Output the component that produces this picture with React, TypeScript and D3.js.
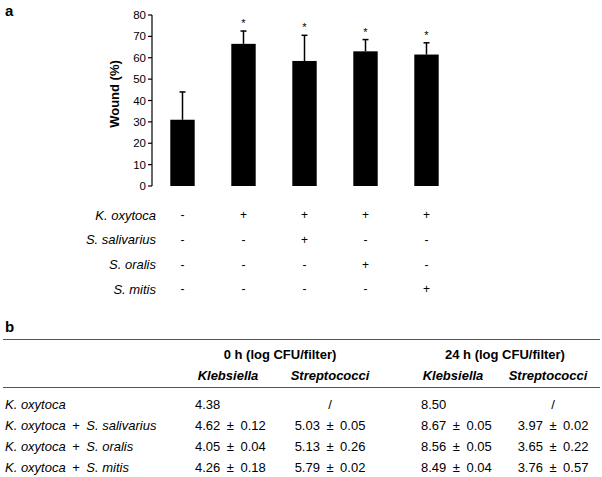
import * as d3 from 'd3'
import React from 'react'

// panel a: wound closure
const groups = ['g1', 'g2', 'g3', 'g4', 'g5']
const wound = [31, 66.5, 58.5, 63, 61.5]
const woundErr = [13, 6, 12, 5.5, 5.5]
const significant = [false, true, true, true, true]
const yTicks = [0, 10, 20, 30, 40, 50, 60, 70, 80]

const strains = ['K. oxytoca', 'S. salivarius', 'S. oralis', 'S. mitis']
const presence = [
  ['-', '+', '+', '+', '+'],
  ['-', '-', '+', '-', '-'],
  ['-', '-', '-', '+', '-'],
  ['-', '-', '-', '-', '+'],
]

// panel b: table
const tableRows = [
  ['K. oxytoca', ''],
  ['K. oxytoca', 'S. salivarius'],
  ['K. oxytoca', 'S. oralis'],
  ['K. oxytoca', 'S. mitis'],
]
const klebs0 = ['4.38', '4.62 ± 0.12', '4.05 ± 0.04', '4.26 ± 0.18']
const strep0 = ['/', '5.03 ± 0.05', '5.13 ± 0.26', '5.79 ± 0.02']
const klebs24 = ['8.50', '8.67 ± 0.05', '8.56 ± 0.05', '8.49 ± 0.04']
const strep24 = ['/', '3.97 ± 0.02', '3.65 ± 0.22', '3.76 ± 0.57']

const font = 'Arial, "Liberation Sans", sans-serif'
const wide = (s: string) => s.replace(' ± ', '\u2002±\u2002')

export default function App() {
  const W = 602, H = 477
  const x = d3.scaleBand().domain(groups).range([152, 457]).paddingInner(0.6).paddingOuter(0.3)
  const y = d3.scaleLinear().domain([0, 80]).range([186, 15])
  const rowY = d3.scalePoint().domain(strains).range([215, 289])
  const tRowY = d3.scalePoint<number>().domain(d3.range(4) as any).range([404, 467])

  return (
    <svg width={W} height={H} style={{ position: 'absolute', left: 0, top: 0, fontFamily: font }}>
      <rect width={W} height={H} fill="#fff" />
      <text x={5} y={16} fontSize={15} fontWeight="bold">a</text>

      {/* y axis */}
      <line x1={152} x2={152} y1={y(80)} y2={y(0)} stroke="#000" strokeWidth={1.2} />
      {yTicks.map(t => (
        <g key={t}>
          <line x1={148} x2={152} y1={y(t)} y2={y(t)} stroke="#000" strokeWidth={1.2} />
          <text x={146} y={y(t)} dy="0.35em" textAnchor="end" fontSize={11.5}>{t}</text>
        </g>
      ))}
      <text transform={`translate(119,94) rotate(-90)`} textAnchor="middle" fontSize={13} fontWeight="bold">Wound (%)</text>

      {/* bars */}
      {groups.map((g, i) => {
        const cx = x(g)! + x.bandwidth() / 2
        const top = y(wound[i] + woundErr[i])
        return (
          <g key={g}>
            <line x1={cx} x2={cx} y1={y(wound[i])} y2={top} stroke="#000" strokeWidth={1.5} />
            <line x1={cx - 3} x2={cx + 3} y1={top} y2={top} stroke="#000" strokeWidth={1.5} />
            <rect x={x(g)} y={y(wound[i])} width={x.bandwidth()} height={y(0) - y(wound[i])} fill="#000" />
            {significant[i] && (
              <text x={cx} y={top - 4} textAnchor="middle" fontSize={11}>*</text>
            )}
          </g>
        )
      })}

      {/* presence grid */}
      {strains.map((s, r) => (
        <g key={s}>
          <text x={156} y={rowY(s)} dy="0.35em" textAnchor="end" fontSize={13} fontStyle="italic">{s}</text>
          {groups.map((g, i) => (
            <text key={g} x={x(g)! + x.bandwidth() / 2} y={rowY(s)} dy="0.35em" textAnchor="middle" fontSize={12}>
              {presence[r][i]}
            </text>
          ))}
        </g>
      ))}

      <text x={5} y={332} fontSize={15} fontWeight="bold">b</text>

      {/* table */}
      <line x1={3} x2={600} y1={339.5} y2={339.5} stroke="#555" strokeWidth={1} />
      <line x1={3} x2={600} y1={387.5} y2={387.5} stroke="#555" strokeWidth={1} />
      <g fontSize={13} fontWeight="bold">
        <text x={280} y={359} textAnchor="middle">0 h (log CFU/filter)</text>
        <text x={505} y={359} textAnchor="middle">24 h (log CFU/filter)</text>
        <text x={228} y={380} textAnchor="middle" fontStyle="italic">Klebsiella</text>
        <text x={330} y={380} textAnchor="middle" fontStyle="italic">Streptococci</text>
        <text x={453} y={380} textAnchor="middle" fontStyle="italic">Klebsiella</text>
        <text x={548} y={380} textAnchor="middle" fontStyle="italic">Streptococci</text>
      </g>

      {tableRows.map((row, i) => {
        const ty = tRowY(i)!
        return (
          <g key={i} fontSize={13}>
            <text x={5} y={ty} dy="0.35em">
              <tspan fontStyle="italic">{row[0]}</tspan>
              {row[1] && <tspan>{'\u2002+\u2002'}</tspan>}
              {row[1] && <tspan fontStyle="italic">{row[1]}</tspan>}
            </text>
            <text x={195} y={ty} dy="0.35em">{wide(klebs0[i])}</text>
            <text x={330} y={ty} dy="0.35em" textAnchor="middle">{wide(strep0[i])}</text>
            <text x={421} y={ty} dy="0.35em">{wide(klebs24[i])}</text>
            <text x={553} y={ty} dy="0.35em" textAnchor="middle">{wide(strep24[i])}</text>
          </g>
        )
      })}
    </svg>
  )
}
